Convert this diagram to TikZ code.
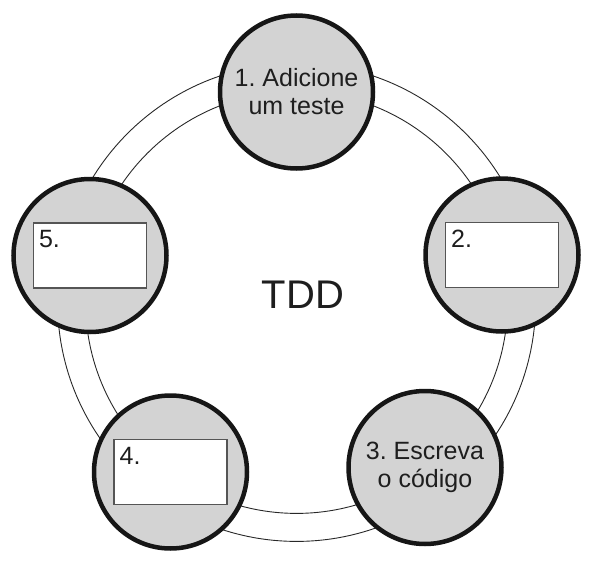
\documentclass[tikz,border=0pt]{standalone}
\usepackage{fontspec}
\setmainfont{Liberation Sans}
\usepackage{xcolor}
\definecolor{StageFill}{RGB}{211,211,211}
\definecolor{StageBorder}{RGB}{22,22,22}
\definecolor{RingColor}{RGB}{40,40,40}
\definecolor{SlotBorder}{RGB}{85,85,85}
\definecolor{TextColor}{RGB}{30,30,30}
\usepackage{tikz}
\usetikzlibrary{
  positioning,
  calc
}
\frenchspacing
\tikzset{
  % Stage of the cycle
  stage/.style={
    circle,
    draw=StageBorder,
    fill=StageFill,
    line width=4.5pt,
    minimum size=153pt,
    inner sep=0pt,
    align=center,
    text=TextColor,
    font=\fontsize{25}{28}\selectfont
  },
  % Empty box to fill in
  slot/.style={
    rectangle,
    draw=SlotBorder,
    fill=white,
    line width=1.2pt,
    minimum width=113pt,
    minimum height=65pt,
    inner sep=0pt
  },
  % Number in the corner of a box
  slotlabel/.style={
    anchor=north west,
    inner xsep=6pt,
    inner ysep=8pt,
    text=TextColor,
    font=\fontsize{25}{28}\selectfont
  },
  % Thin circles of the ring
  ring/.style={
    draw=RingColor,
    line width=0.9pt
  },
  % Title in the middle
  title/.style={
    text=TextColor,
    font=\fontsize{40}{44}\selectfont
  }
}
\begin{document}
\begin{tikzpicture}[x=1pt,y=-1pt]
  \useasboundingbox (0,0) rectangle (592,562);
  \coordinate (c) at (296.6,302.4);

  \draw[ring] (c) circle[radius=211pt];
  \draw[ring] (c) circle[radius=239pt];

  \node[title] (tdd) at (303,294.5) {TDD};

  \node[stage] (s1) at (296.5,92)  {1. Adicione\\um teste};
  \node[stage] (s2) at (502,255)   {};
  \node[stage] (s3) at (425,467.5) {3. Escreva\\o código};
  \node[stage] (s4) at (170.5,472) {};
  \node[stage] (s5) at (90,255.5)  {};

  \node[slot] (b2) at (s2) {};
  \node[slot] (b4) at (s4) {};
  \node[slot] (b5) at (s5) {};

  \node[slotlabel] (l2) at (b2.north west) {2.};
  \node[slotlabel] (l4) at (b4.north west) {4.};
  \node[slotlabel] (l5) at (b5.north west) {5.};
\end{tikzpicture}
\end{document}
